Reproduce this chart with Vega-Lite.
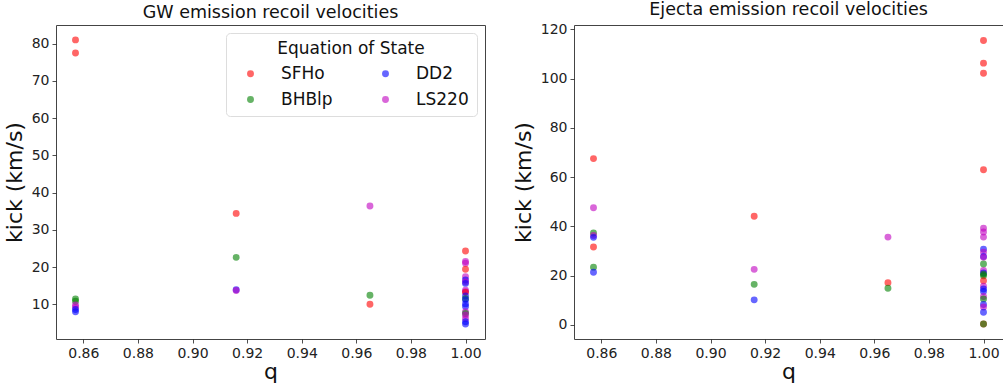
{
  "$schema": "https://vega.github.io/schema/vega-lite/v6.json",
  "padding": {"left": 2, "top": 0, "right": 2, "bottom": 0},
  "config": {
    "font": "DejaVu Sans",
    "view": {"stroke": "#444", "strokeWidth": 1},
    "axis": {"domain": false, "grid": false, "tickColor": "#222", "tickSize": 4, "tickWidth": 0.8, "labelFont": "DejaVu Sans", "labelFontSize": 14, "labelColor": "#222", "titleFont": "DejaVu Sans", "titleFontSize": 22, "titleFontWeight": "normal", "titleColor": "#111", "labelPadding": 3},
    "title": {"font": "DejaVu Sans", "fontSize": 17.5, "fontWeight": "normal", "color": "#111", "offset": 4},
    "concat": {"spacing": 25}
  },
  "datasets": {
    "gw": [
      {"q": 0.857143, "kick": 81.0, "eos": "SFHo"},
      {"q": 0.857143, "kick": 77.5, "eos": "SFHo"},
      {"q": 0.857143, "kick": 11.4, "eos": "BHBlp"},
      {"q": 0.857143, "kick": 10.8, "eos": "BHBlp"},
      {"q": 0.857143, "kick": 9.8, "eos": "LS220"},
      {"q": 0.857143, "kick": 9.2, "eos": "LS220"},
      {"q": 0.857143, "kick": 8.6, "eos": "DD2"},
      {"q": 0.857143, "kick": 8.0, "eos": "DD2"},
      {"q": 0.916, "kick": 34.4, "eos": "SFHo"},
      {"q": 0.916, "kick": 22.6, "eos": "BHBlp"},
      {"q": 0.916, "kick": 13.9, "eos": "DD2"},
      {"q": 0.916, "kick": 13.7, "eos": "LS220"},
      {"q": 0.965, "kick": 36.4, "eos": "LS220"},
      {"q": 0.965, "kick": 12.4, "eos": "BHBlp"},
      {"q": 0.965, "kick": 10.0, "eos": "SFHo"},
      {"q": 1.0, "kick": 24.3, "eos": "SFHo"},
      {"q": 1.0, "kick": 21.5, "eos": "LS220"},
      {"q": 1.0, "kick": 21.0, "eos": "LS220"},
      {"q": 1.0, "kick": 19.4, "eos": "SFHo"},
      {"q": 1.0, "kick": 17.4, "eos": "LS220"},
      {"q": 1.0, "kick": 16.5, "eos": "DD2"},
      {"q": 1.0, "kick": 16.0, "eos": "LS220"},
      {"q": 1.0, "kick": 15.6, "eos": "DD2"},
      {"q": 1.0, "kick": 13.8, "eos": "LS220"},
      {"q": 1.0, "kick": 13.4, "eos": "LS220"},
      {"q": 1.0, "kick": 13.2, "eos": "SFHo"},
      {"q": 1.0, "kick": 12.2, "eos": "DD2"},
      {"q": 1.0, "kick": 11.5, "eos": "BHBlp"},
      {"q": 1.0, "kick": 11.2, "eos": "DD2"},
      {"q": 1.0, "kick": 10.1, "eos": "DD2"},
      {"q": 1.0, "kick": 9.4, "eos": "DD2"},
      {"q": 1.0, "kick": 8.0, "eos": "LS220"},
      {"q": 1.0, "kick": 7.5, "eos": "BHBlp"},
      {"q": 1.0, "kick": 7.1, "eos": "LS220"},
      {"q": 1.0, "kick": 6.2, "eos": "LS220"},
      {"q": 1.0, "kick": 5.3, "eos": "DD2"},
      {"q": 1.0, "kick": 4.7, "eos": "DD2"}
    ],
    "ej": [
      {"q": 0.857143, "kick": 67.5, "eos": "SFHo"},
      {"q": 0.857143, "kick": 47.5, "eos": "LS220"},
      {"q": 0.857143, "kick": 37.3, "eos": "BHBlp"},
      {"q": 0.857143, "kick": 36.3, "eos": "LS220"},
      {"q": 0.857143, "kick": 35.5, "eos": "DD2"},
      {"q": 0.857143, "kick": 31.6, "eos": "SFHo"},
      {"q": 0.857143, "kick": 23.4, "eos": "BHBlp"},
      {"q": 0.857143, "kick": 21.3, "eos": "DD2"},
      {"q": 0.916, "kick": 44.1, "eos": "SFHo"},
      {"q": 0.916, "kick": 22.5, "eos": "LS220"},
      {"q": 0.916, "kick": 16.4, "eos": "BHBlp"},
      {"q": 0.916, "kick": 10.1, "eos": "DD2"},
      {"q": 0.965, "kick": 35.6, "eos": "LS220"},
      {"q": 0.965, "kick": 17.1, "eos": "SFHo"},
      {"q": 0.965, "kick": 14.8, "eos": "BHBlp"},
      {"q": 1.0, "kick": 115.5, "eos": "SFHo"},
      {"q": 1.0, "kick": 106.3, "eos": "SFHo"},
      {"q": 1.0, "kick": 102.2, "eos": "SFHo"},
      {"q": 1.0, "kick": 63.0, "eos": "SFHo"},
      {"q": 1.0, "kick": 39.2, "eos": "LS220"},
      {"q": 1.0, "kick": 37.7, "eos": "LS220"},
      {"q": 1.0, "kick": 35.6, "eos": "LS220"},
      {"q": 1.0, "kick": 30.7, "eos": "DD2"},
      {"q": 1.0, "kick": 29.5, "eos": "LS220"},
      {"q": 1.0, "kick": 27.7, "eos": "DD2"},
      {"q": 1.0, "kick": 27.4, "eos": "LS220"},
      {"q": 1.0, "kick": 24.7, "eos": "BHBlp"},
      {"q": 1.0, "kick": 22.0, "eos": "LS220"},
      {"q": 1.0, "kick": 21.0, "eos": "DD2"},
      {"q": 1.0, "kick": 20.5, "eos": "BHBlp"},
      {"q": 1.0, "kick": 19.9, "eos": "BHBlp"},
      {"q": 1.0, "kick": 17.9, "eos": "SFHo"},
      {"q": 1.0, "kick": 15.6, "eos": "LS220"},
      {"q": 1.0, "kick": 14.5, "eos": "DD2"},
      {"q": 1.0, "kick": 13.5, "eos": "DD2"},
      {"q": 1.0, "kick": 11.5, "eos": "LS220"},
      {"q": 1.0, "kick": 10.5, "eos": "BHBlp"},
      {"q": 1.0, "kick": 8.2, "eos": "DD2"},
      {"q": 1.0, "kick": 7.2, "eos": "LS220"},
      {"q": 1.0, "kick": 5.1, "eos": "DD2"},
      {"q": 1.0, "kick": 0.3, "eos": "SFHo"},
      {"q": 1.0, "kick": 0.3, "eos": "BHBlp"}
    ]
  },
  "resolve": {"scale": {"color": "independent"}, "legend": {"color": "independent"}},
  "hconcat": [
    {
      "title": "GW emission recoil velocities",
      "width": 429,
      "height": 314,
      "data": {"name": "gw"},
      "mark": {"type": "point", "shape": "circle", "filled": true, "size": 48, "opacity": 0.6},
      "encoding": {
        "x": {"field": "q", "type": "quantitative", "title": "q", "scale": {"domain": [0.85, 1.00714], "nice": false, "zero": false}, "axis": {"values": [0.86, 0.88, 0.9, 0.92, 0.94, 0.96, 0.98, 1.0], "format": ".2f", "titlePadding": 1}},
        "y": {"field": "kick", "type": "quantitative", "title": "kick (km/s)", "scale": {"domain": [0.67, 85.0], "nice": false, "zero": false}, "axis": {"values": [10, 20, 30, 40, 50, 60, 70, 80], "titlePadding": 5}},
        "color": {"field": "eos", "type": "nominal", "scale": {"domain": ["SFHo", "DD2", "BHBlp", "LS220"], "range": ["#ff0000", "#0000ff", "#008000", "#bf00bf"]},
          "legend": {"title": "Equation of State", "orient": "top-right", "offset": 8, "columns": 2, "direction": "horizontal", "titleAnchor": "middle", "titleFontSize": 17, "titleFontWeight": "normal", "titleFont": "DejaVu Sans", "titleColor": "#111", "titlePadding": 7, "labelFontSize": 17, "labelFont": "DejaVu Sans", "labelColor": "#111", "labelOffset": 22, "symbolOffset": 8, "symbolSize": 48, "symbolOpacity": 0.6, "symbolType": "circle", "rowPadding": 8, "columnPadding": 36, "padding": 8, "strokeColor": "#ddd", "cornerRadius": 4, "fillColor": "rgba(255,255,255,0.8)"}}
      }
    },
    {
      "title": "Ejecta emission recoil velocities",
      "width": 429,
      "height": 314,
      "data": {"name": "ej"},
      "mark": {"type": "point", "shape": "circle", "filled": true, "size": 48, "opacity": 0.6},
      "encoding": {
        "x": {"field": "q", "type": "quantitative", "title": "q", "scale": {"domain": [0.85, 1.00714], "nice": false, "zero": false}, "axis": {"values": [0.86, 0.88, 0.9, 0.92, 0.94, 0.96, 0.98, 1.0], "format": ".2f", "titlePadding": 1}},
        "y": {"field": "kick", "type": "quantitative", "title": "kick (km/s)", "scale": {"domain": [-5.8, 121.8], "nice": false, "zero": false}, "axis": {"values": [0, 20, 40, 60, 80, 100, 120], "titlePadding": 5}},
        "color": {"field": "eos", "type": "nominal", "scale": {"domain": ["SFHo", "DD2", "BHBlp", "LS220"], "range": ["#ff0000", "#0000ff", "#008000", "#bf00bf"]}, "legend": null}
      }
    }
  ]
}
